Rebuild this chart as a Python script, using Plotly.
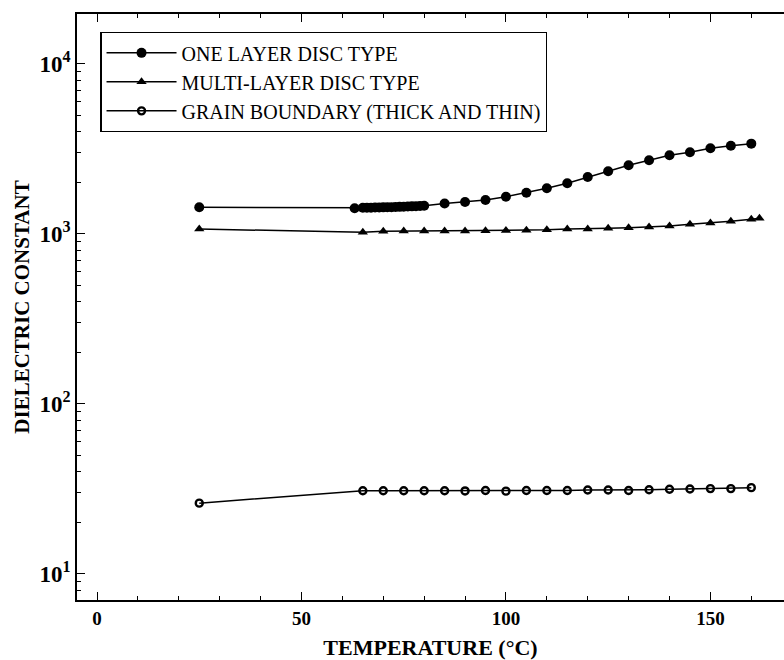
import plotly.graph_objects as go

# Data
one_x = [25, 63, 65, 66, 67, 68, 69, 70, 71, 72, 73, 74, 75, 76, 77, 78, 79, 80,
         85, 90, 95, 100, 105, 110, 115, 120, 125, 130, 135, 140, 145, 150, 155, 160]
one_y = [1435, 1417, 1425, 1427, 1428, 1430, 1432, 1434, 1436, 1438, 1441, 1444, 1447, 1450, 1454, 1458, 1462, 1467,
         1510, 1543, 1585, 1657, 1750, 1858, 1988, 2165, 2338, 2535, 2714, 2902, 3025, 3193, 3303, 3399]

multi_x = [25, 65, 70, 75, 80, 85, 90, 95, 100, 105, 110, 115, 120, 125, 130, 135, 140, 145, 150, 155, 160, 162]
multi_y = [1070, 1023, 1038, 1040, 1040, 1041, 1042, 1045, 1050, 1052, 1058, 1070, 1070, 1080, 1089, 1100, 1115, 1140, 1160, 1188, 1220, 1237]

gb_x = [25, 65, 70, 75, 80, 85, 90, 95, 100, 105, 110, 115, 120, 125, 130, 135, 140, 145, 150, 155, 160]
gb_y = [26.1, 30.9, 30.9, 30.9, 30.9, 30.9, 30.8, 31.0, 30.7, 31.0, 31.0, 31.0, 31.2, 31.2, 31.0, 31.3, 31.5, 31.6, 31.8, 31.8, 32.2]

names = ["ONE LAYER DISC TYPE", "MULTI-LAYER DISC TYPE", "GRAIN BOUNDARY (THICK AND THIN)"]

x_tickvals = [0, 50, 100, 150]
x_ticktext = ["<b>0</b>", "<b>50</b>", "<b>100</b>", "<b>150</b>"]
y_tickvals = [10, 100, 1000, 10000]
y_ticktext = ["<b>10<sup>1</sup></b>", "<b>10<sup>2</sup></b>", "<b>10<sup>3</sup></b>", "<b>10<sup>4</sup></b>"]
y_minor = [m * d for d in (1, 10, 100, 1000, 10000) for m in range(2, 10)]

serif = "Liberation Serif"

fig = go.Figure()
fig.add_trace(go.Scatter(x=one_x, y=one_y, mode="lines+markers", name=names[0],
                         line=dict(color="black", width=1.5),
                         marker=dict(symbol="circle", size=10, color="black")))
fig.add_trace(go.Scatter(x=multi_x, y=multi_y, mode="lines+markers", name=names[1],
                         line=dict(color="black", width=1.5),
                         marker=dict(symbol="triangle-up", size=9, color="black")))
fig.add_trace(go.Scatter(x=gb_x, y=gb_y, mode="lines+markers", name=names[2],
                         line=dict(color="black", width=1.5),
                         marker=dict(symbol="circle-open", size=7, color="black",
                                     line=dict(width=2.4, color="black"))))

fig.update_layout(
    width=784, height=660,
    margin=dict(l=77, r=0, t=14, b=60),
    paper_bgcolor="white", plot_bgcolor="white",
    font=dict(family=serif, color="black"),
    showlegend=True,
    legend=dict(x=0.033, y=0.969, xanchor="left", yanchor="top",
                bordercolor="black", borderwidth=1.2, bgcolor="white",
                font=dict(family=serif, size=20, color="black"),
                tracegroupgap=0, itemwidth=70),
    xaxis=dict(range=[-4.9, 168], showline=True, linecolor="black", linewidth=1.5,
               mirror="ticks", ticks="inside", ticklen=8, tickwidth=1.2, tickcolor="black",
               tickvals=x_tickvals, ticktext=x_ticktext, showgrid=False, zeroline=False,
               automargin=False,
               tickfont=dict(family=serif, size=19),
               minor=dict(ticks="inside", ticklen=4, tickwidth=1, tickcolor="black", dtick=10, showgrid=False),
               title=dict(text="<b>TEMPERATURE (°C)</b>", font=dict(family=serif, size=22), standoff=12)),
    yaxis=dict(type="log", range=[0.847, 4.294], showline=True, linecolor="black", linewidth=1.5,
               ticks="inside", ticklen=8, tickwidth=1.2, tickcolor="black",
               tickvals=y_tickvals, ticktext=y_ticktext, showgrid=False, zeroline=False,
               automargin=False,
               tickfont=dict(family=serif, size=23),
               minor=dict(ticks="inside", ticklen=4, tickwidth=1, tickcolor="black",
                          tickvals=y_minor, showgrid=False),
               title=dict(text="<b>DIELECTRIC CONSTANT</b>", font=dict(family=serif, size=21), standoff=4)),
)

fig.write_html("out.html",
               config={"displayModeBar": False},
               post_script="document.body.style.margin='0';document.body.style.overflow='hidden';")
